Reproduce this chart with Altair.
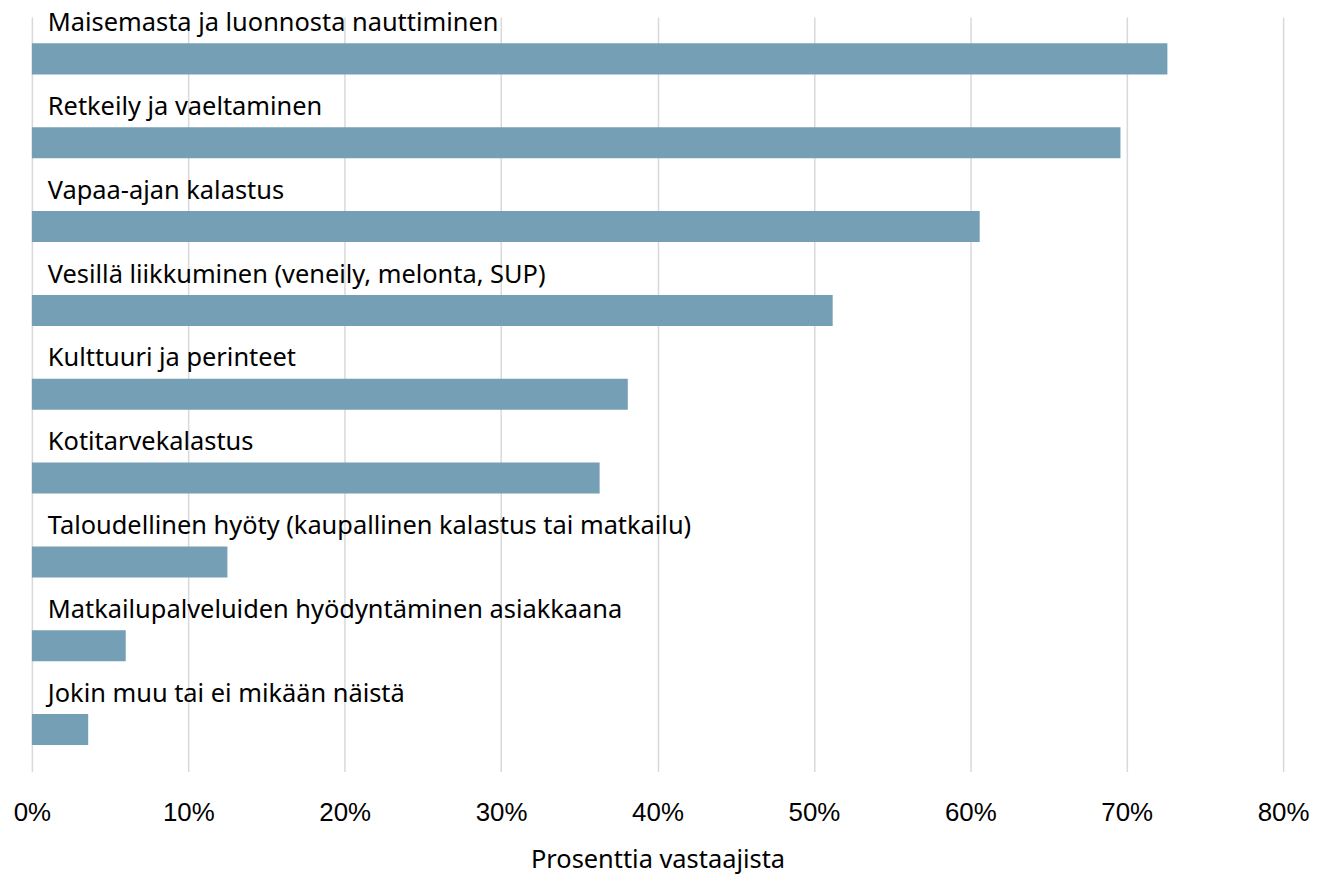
import altair as alt
import pandas as pd

categories = [
    "Maisemasta ja luonnosta nauttiminen",
    "Retkeily ja vaeltaminen",
    "Vapaa-ajan kalastus",
    "Vesillä liikkuminen (veneily, melonta, SUP)",
    "Kulttuuri ja perinteet",
    "Kotitarvekalastus",
    "Taloudellinen hyöty (kaupallinen kalastus tai matkailu)",
    "Matkailupalveluiden hyödyntäminen asiakkaana",
    "Jokin muu tai ei mikään näistä",
]
values = [0.726, 0.696, 0.606, 0.512, 0.381, 0.363, 0.125, 0.060, 0.036]
tick_values = [0, 0.1, 0.2, 0.3, 0.4, 0.5, 0.6, 0.7, 0.8]

df = pd.DataFrame({"cat": categories, "val": values})

yenc = alt.Y("cat:N", sort=categories, axis=None,
             scale=alt.Scale(paddingInner=0.63, paddingOuter=0.315))

bars = alt.Chart(df).mark_bar(color="#759FB5").encode(
    x=alt.X("val:Q",
            scale=alt.Scale(domain=[0, 0.8], nice=False),
            axis=alt.Axis(format=".0%", values=tick_values,
                          title="Prosenttia vastaajista",
                          grid=True, gridColor="#D9D9D9", gridWidth=1.5,
                          domain=False, ticks=False, labelFlush=False,
                          labelFont="Liberation Sans", labelFontSize=26, labelColor="#000000",
                          labelPadding=28,
                          titleFont="Noto Sans", titleFontSize=25.5, titleFontWeight="normal",
                          titleColor="#000000", titlePadding=22)),
    y=yenc,
)

labels = alt.Chart(df).mark_text(
    align="left", baseline="alphabetic", dx=16, dy=-28,
    font="Noto Sans", fontSize=25.5, color="#000000",
).encode(
    x=alt.datum(0),
    y=yenc,
    text="cat:N",
)

chart = (bars + labels).properties(
    width=1257, height=758,
    autosize=alt.AutoSizeParams(type="none"),
    padding={"left": 24, "top": 7, "right": 26, "bottom": 105},
).configure_view(stroke=None)

chart.save("out.html", embed_options={"renderer": "svg", "actions": False})
